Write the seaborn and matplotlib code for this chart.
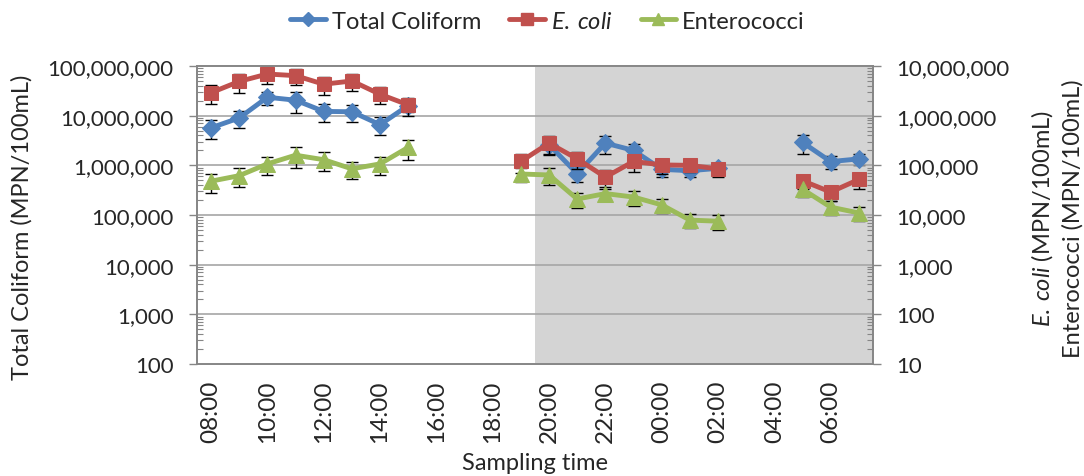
import numpy as np
import pandas as pd
import matplotlib
matplotlib.use("Agg")
import matplotlib.pyplot as plt
import seaborn as sns
from matplotlib.lines import Line2D
from matplotlib.ticker import LogLocator, FixedLocator, NullFormatter, FuncFormatter

nan = np.nan
times = ["08:00", "09:00", "10:00", "11:00", "12:00", "13:00", "14:00", "15:00",
         "16:00", "17:00", "18:00", "19:00", "20:00", "21:00", "22:00", "23:00",
         "00:00", "01:00", "02:00", "03:00", "04:00", "05:00", "06:00", "07:00"]

total_coliform = [5.7e6, 9.0e6, 2.35e7, 2.05e7, 1.22e7, 1.2e7, 6.6e6, 1.6e7,
                  nan, nan, nan, nan, 2.6e6, 6.8e5, 2.8e6, 2.0e6,
                  8.3e5, 7.8e5, 8.7e5, nan, nan, 2.9e6, 1.19e6, 1.35e6]
total_coliform_err = [2.3e6, 3.3e6, 7.0e6, 9.0e6, 4.8e6, 4.5e6, 2.6e6, 4.0e6,
                      nan, nan, nan, nan, 1.0e6, 2.2e5, 1.1e6, 7.0e5,
                      2.5e5, 2.0e5, 2.0e5, nan, nan, 1.2e6, 3.5e5, 3.5e5]

e_coli = [2.9e6, 4.9e6, 6.9e6, 6.4e6, 4.3e6, 5.0e6, 2.7e6, 1.65e6,
          nan, nan, nan, 1.2e5, 2.8e5, 1.35e5, 5.8e4, 1.2e5,
          1.02e5, 1.0e5, 8.5e4, nan, nan, 4.9e4, 2.9e4, 5.2e4]
e_coli_err = [1.2e6, 2.0e6, 2.5e6, 2.3e6, 1.7e6, 1.9e6, 1.0e6, 6.5e5,
              nan, nan, nan, 5.0e4, 1.1e5, 5.0e4, 2.2e4, 4.5e4,
              3.5e4, 2.5e4, 2.8e4, nan, nan, 1.5e4, 1.0e4, 1.8e4]

enterococci = [4.8e4, 6.2e4, 1.07e5, 1.6e5, 1.3e5, 8.5e4, 1.07e5, 2.3e5,
               nan, nan, nan, 6.7e4, 6.4e4, 2.1e4, 2.7e4, 2.3e4,
               1.6e4, 7.9e3, 7.5e3, nan, nan, 3.3e4, 1.44e4, 1.1e4]
enterococci_err = [2.0e4, 2.5e4, 4.3e4, 7.0e4, 5.2e4, 3.2e4, 4.3e4, 1.0e5,
                   nan, nan, nan, 2.0e4, 2.4e4, 7.0e3, 7.0e3, 8.0e3,
                   5.0e3, 2.5e3, 2.5e3, nan, nan, 1.0e4, 4.5e3, 3.5e3]

night_start, night_end = "20:00", "07:00"

sns.set_theme(style="white")
plt.rcParams['font.family'] = ['Lato', 'DejaVu Sans']
plt.rcParams['mathtext.fontset'] = 'custom'
plt.rcParams['mathtext.it'] = 'Lato:italic'
plt.rcParams['mathtext.rm'] = 'Lato'

C_BLUE = "#4F81BD"
C_RED = "#C0504D"
C_GREEN = "#9BBB59"
FS_Y = 16
FS_X = 17.5
FSL = 17
ECOLI = "$\\mathit{E.\\:coli}$"


def to_df(vals):
    idx, v, seg = [], [], []
    s = 0
    prev_nan = False
    for i, x in enumerate(vals):
        if np.isnan(x):
            if not prev_nan:
                s += 1
            prev_nan = True
            continue
        prev_nan = False
        idx.append(i); v.append(x); seg.append(s)
    return pd.DataFrame({"idx": idx, "value": v, "seg": seg})


fig = plt.figure(figsize=(10.84, 4.77), dpi=100)
ax = fig.add_axes([0.1817, 0.2348, 0.6236, 0.6247])
ax2 = ax.twinx()

x = np.arange(len(times))
ax.axvspan(times.index(night_start) - 0.5, times.index(night_end) + 0.5,
           color="#D4D4D4", zorder=0, lw=0)

# Total coliform (left axis)
sns.lineplot(data=to_df(total_coliform), x="idx", y="value", units="seg",
             estimator=None, ax=ax, color=C_BLUE, lw=3.5, marker="D",
             markersize=9, markeredgecolor=C_BLUE, zorder=3)
ax.errorbar(x, total_coliform, yerr=total_coliform_err, fmt="none",
            ecolor="black", elinewidth=1, capsize=4, capthick=1, zorder=2)

# E. coli & Enterococci (right axis)
sns.lineplot(data=to_df(e_coli), x="idx", y="value", units="seg",
             estimator=None, ax=ax2, color=C_RED, lw=3.5, marker="s",
             markersize=10, markeredgecolor=C_RED, zorder=3)
ax2.errorbar(x, e_coli, yerr=e_coli_err, fmt="none",
             ecolor="black", elinewidth=1, capsize=4, capthick=1, zorder=2)
sns.lineplot(data=to_df(enterococci), x="idx", y="value", units="seg",
             estimator=None, ax=ax2, color=C_GREEN, lw=3.5, marker="^",
             markersize=11, markeredgecolor=C_GREEN, zorder=4)
ax2.errorbar(x, enterococci, yerr=enterococci_err, fmt="none",
             ecolor="black", elinewidth=1, capsize=4, capthick=1, zorder=2)

for a, lo, hi in [(ax, 1e2, 1e8), (ax2, 1e1, 1e7)]:
    a.set_yscale("log")
    a.set_ylim(lo, hi)
    a.yaxis.set_major_locator(LogLocator(base=10, numticks=20))
    a.yaxis.set_minor_locator(LogLocator(base=10, subs=np.arange(2, 10), numticks=20))
    a.yaxis.set_minor_formatter(NullFormatter())
    a.yaxis.set_major_formatter(FuncFormatter(lambda v, p: f"{v:,.0f}"))
    a.set_xlim(-0.5, len(times) - 0.5)
    for s in a.spines.values():
        s.set_color("#868686")

ax.grid(axis="y", which="major", color="#A6A6A6", lw=1.2, zorder=1)
ax.set_axisbelow(False)
ax.tick_params(axis="y", which="major", direction="out", length=6, width=1,
               color="#868686", labelsize=FS_Y, pad=11, left=True)
ax.tick_params(axis="y", which="minor", direction="in", length=4.5, width=0.8,
               color="#868686", left=True)
ax2.tick_params(axis="y", which="major", direction="out", length=6, width=1,
                color="#868686", labelsize=FS_Y, pad=11, right=True)
ax2.tick_params(axis="y", which="minor", direction="in", length=4.5, width=0.8,
                color="#868686", right=True)

# x axis: boundary ticks, labels every 2 hours
ax.xaxis.set_major_locator(FixedLocator(np.arange(-0.5, len(times), 1.0)))
ax.xaxis.set_major_formatter(NullFormatter())
ax.xaxis.set_minor_locator(FixedLocator(x[::2]))
ax.set_xticklabels(times[::2], minor=True, rotation=90, fontsize=FS_X)
ax.tick_params(axis="x", which="major", direction="out", length=6, width=1,
               color="#868686", bottom=True)
ax.tick_params(axis="x", which="minor", length=0, pad=11)
ax2.set_xticks([])

ax.set_xlabel("Sampling time", fontsize=FSL, va="center")
ax.xaxis.set_label_coords(0.5, -0.329)
ax.set_ylabel("Total Coliform (MPN/100mL)", fontsize=FSL, va="center")
ax.yaxis.set_label_coords(-0.2585, 0.463)
ax2.set_ylabel(ECOLI + " (MPN/100mL)\nEnterococci (MPN/100mL)",
               fontsize=FSL, linespacing=1.4, va="center", ha="center")
ax2.yaxis.set_label_coords(1.272, 0.49)

handles = [Line2D([], [], color=C_BLUE, lw=3.5, marker="D", markersize=7),
           Line2D([], [], color=C_RED, lw=3.5, marker="s", markersize=8),
           Line2D([], [], color=C_GREEN, lw=3.5, marker="^", markersize=8)]
fig.legend(handles, ["Total Coliform", ECOLI, "Enterococci"],
           loc="upper center", bbox_to_anchor=(0.505, 1.02), ncol=3, frameon=False,
           fontsize=FSL, handlelength=1.5, handletextpad=0.25, columnspacing=1.2)

fig.savefig("out.png", dpi=100)
